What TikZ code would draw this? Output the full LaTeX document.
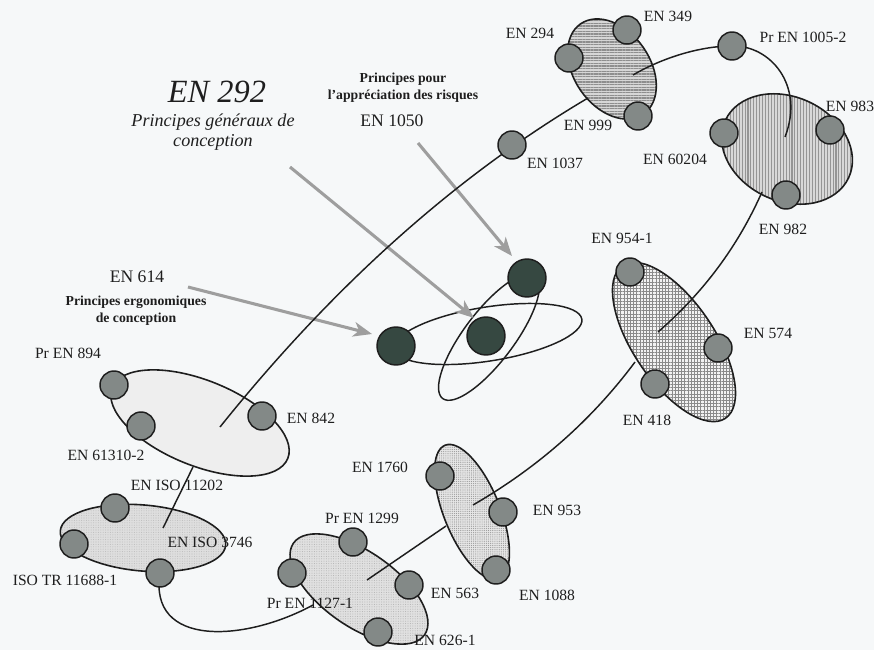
\documentclass[tikz,border=0pt]{standalone}
\usepackage{fontspec}
\setmainfont{Liberation Serif}
\usetikzlibrary{shapes.geometric,patterns.meta,arrows.meta}
\definecolor{bgcol}{HTML}{F6F8F9}
\definecolor{smgray}{HTML}{838987}
\definecolor{dkgreen}{HTML}{364841}
\definecolor{arrowgray}{HTML}{9E9E9E}
\definecolor{baseA}{HTML}{D6D6D6}
\definecolor{hatchA}{HTML}{8E8E8E}
\definecolor{baseB}{HTML}{D8D8D8}
\definecolor{hatchB}{HTML}{959595}
\definecolor{baseC}{HTML}{F2F2F2}
\definecolor{hatchC}{HTML}{8A8A8A}
\definecolor{baseD}{HTML}{E6E6E6}
\definecolor{dotD}{HTML}{9A9A9A}
\definecolor{baseE}{HTML}{E0E0E0}
\definecolor{dotE}{HTML}{B4B4B4}
\definecolor{baseF}{HTML}{EEEEEE}
\definecolor{baseG}{HTML}{DEDEDE}
\definecolor{dotG}{HTML}{BDBDBD}
\definecolor{ink}{HTML}{1E1E1E}
\begin{document}
\begin{tikzpicture}[x=0.75pt,y=-0.75pt,
  lbl/.style={font=\fontsize{11.7}{13}\selectfont, inner sep=0pt, text=ink},
  biglbl/.style={font=\fontsize{13.2}{15}\selectfont, inner sep=0pt, text=ink},
  boldlbl/.style={font=\fontsize{10.3}{12.6}\selectfont\bfseries, inner sep=0pt, align=center, text=ink},
  itlbl/.style={font=\fontsize{13.6}{15.5}\selectfont\itshape, inner sep=0pt, align=center, text=ink},
  blob/.style={ellipse, draw=ink, line width=1.2pt, inner sep=0pt, outer sep=0pt},
  orbit/.style={ellipse, draw=ink, line width=1.1pt, inner sep=0pt, outer sep=0pt},
  sm/.style={circle, draw=ink, line width=1.1pt, fill=smgray, minimum size=21pt, inner sep=0pt},
  dk/.style={circle, draw=ink, line width=1.1pt, fill=dkgreen, minimum size=28.5pt, inner sep=0pt},
  chain/.style={draw=ink, line width=1.1pt},
  garrow/.style={draw=arrowgray, line width=2.3pt, -{Stealth[length=14pt,width=11pt,inset=4pt]}},
]
\useasboundingbox (0,0) rectangle (874,650);
\fill[bgcol] (0,0) rectangle (874,650);

% ---- blobs ----
\node[blob, rotate=-55, minimum width=82.5pt, minimum height=57pt, preaction={fill=baseA},
  pattern={Lines[angle=0,distance=2pt,line width=0.8pt]}, pattern color=hatchA] (blobA) at (612,69) {};
\node[blob, rotate=-25, minimum width=102pt, minimum height=78pt, preaction={fill=baseB},
  pattern={Lines[angle=90,distance=2.2pt,line width=0.8pt]}, pattern color=hatchB] (blobB) at (787,149) {};
\node[blob, rotate=-56, minimum width=138pt, minimum height=61pt, preaction={fill=baseC},
  pattern={Hatch[angle=0,distance=2.4pt,line width=0.6pt]}, pattern color=hatchC] (blobC) at (674,342) {};
\node[blob, rotate=-68, minimum width=108pt, minimum height=42pt, preaction={fill=baseD},
  pattern={Dots[distance=1.6pt,radius=0.45pt]}, pattern color=dotD] (blobD) at (472,512) {};
\node[blob, rotate=-35, minimum width=120pt, minimum height=56pt, preaction={fill=baseE},
  pattern={Dots[distance=1.8pt,radius=0.4pt]}, pattern color=dotE] (blobE) at (359,589) {};
\node[blob, rotate=-22, minimum width=142pt, minimum height=64pt, fill=baseF] (blobF) at (200,423) {};
\node[blob, rotate=-5, minimum width=124.5pt, minimum height=49.5pt, preaction={fill=baseG},
  pattern={Dots[distance=1.8pt,radius=0.4pt]}, pattern color=dotG] (blobG) at (143,538) {};

% ---- central atom orbits ----
\node[orbit, rotate=9, minimum width=142.5pt, minimum height=40.5pt] (orbA) at (488,334) {};
\node[orbit, rotate=53, minimum width=115.5pt, minimum height=37.5pt] (orbB) at (489,337) {};

% ---- named anchor points of connectors ----
\coordinate (aIn) at (633,75);
\coordinate (bIn) at (785,137);
\coordinate (cIn) at (658,332);
\coordinate (dIn) at (473,505);
\coordinate (eIn) at (367,580);
\coordinate (fIn) at (220,427);
\coordinate (gIn) at (163,528);
\coordinate (aEdge) at (588,98);
\coordinate (bEdge) at (762,192);
\coordinate (cEdge) at (635,362);
\coordinate (dEdge) at (446,526);
\coordinate (eEdge) at (313,605);
\coordinate (fEdge) at (193,467);

\coordinate (s614) at (188,287);
\coordinate (t614) at (372,334);
\coordinate (s292) at (290,167);
\coordinate (t292) at (474,318);
\coordinate (s1050) at (418,143);
\coordinate (t1050) at (512,256);

% ---- gray arrows ----
\draw[garrow] (s614) -- (t614);
\draw[garrow] (s292) -- (t292);
\draw[garrow] (s1050) -- (t1050);

% ---- small circles positions (drawn later) ----
\path (732,46) coordinate (p10052) (160,573) coordinate (p3746);

% ---- chain lines ----
\draw[chain] (aIn) .. controls (662,58) and (700,46) .. (p10052) .. controls (770,45) and (805,85) .. (bIn);
\draw[chain] (fIn) .. controls (333,286) and (456,176) .. (aEdge);
\draw[chain] (fEdge) -- (gIn);
\draw[chain] (p3746) .. controls (148,648) and (245,642) .. (eEdge);
\draw[chain] (eIn) -- (dEdge);
\draw[chain] (dIn) .. controls (537,468) and (591,421) .. (cEdge);
\draw[chain] (cIn) .. controls (704,292) and (738,246) .. (bEdge);

% ---- small circles ----
\node[sm] (c294) at (569,58) {};
\node[sm] (c349) at (627,30) {};
\node[sm] (c999) at (638,116) {};
\node[sm] (c1037) at (512,145) {};
\node[sm] (c10052) at (p10052) {};
\node[sm] (c60204) at (724,133) {};
\node[sm] (c983) at (830,130) {};
\node[sm] (c982) at (786,195) {};
\node[sm] (c9541) at (630,272) {};
\node[sm] (c574) at (718,348) {};
\node[sm] (c418) at (655,384) {};
\node[sm] (c1760) at (440,476) {};
\node[sm] (c953) at (503,512) {};
\node[sm] (c1088) at (496,570) {};
\node[sm] (c1299) at (353,542) {};
\node[sm] (c11271) at (292,573) {};
\node[sm] (c563) at (409,585) {};
\node[sm] (c6261) at (378,632) {};
\node[sm] (c894) at (114,385) {};
\node[sm] (c61310) at (141,426) {};
\node[sm] (c842) at (262,416) {};
\node[sm] (c11202) at (115,508) {};
\node[sm] (c11688) at (74,544) {};
\node[sm] (c3746) at (p3746) {};

% ---- dark atom circles ----
\node[dk] (dTop) at (527,278) {};
\node[dk] (dMid) at (486,336) {};
\node[dk] (dLeft) at (396,346) {};

% ---- labels ----
\node[lbl] (l294) at (530,33) {EN 294};
\node[lbl] (l349) at (668,16) {EN 349};
\node[lbl] (l10052) at (803,37) {Pr EN 1005-2};
\node[lbl] (l983) at (850,106) {EN 983};
\node[lbl] (l999) at (588,125) {EN 999};
\node[lbl] (l1037) at (555,163) {EN 1037};
\node[lbl] (l60204) at (675,159) {EN 60204};
\node[lbl] (l982) at (783,229) {EN 982};
\node[lbl] (l9541) at (622,238) {EN 954-1};
\node[lbl] (l574) at (768,333) {EN 574};
\node[lbl] (l418) at (647,420) {EN 418};
\node[lbl] (l953) at (557,510) {EN 953};
\node[lbl] (l1088) at (547,595) {EN 1088};
\node[lbl] (l1760) at (380,467) {EN 1760};
\node[lbl] (l1299) at (362,518) {Pr EN 1299};
\node[lbl] (l11271) at (310,603) {Pr EN 1127-1};
\node[lbl] (l563) at (455,593) {EN 563};
\node[lbl] (l6261) at (445,640) {EN 626-1};
\node[lbl] (l894) at (68,353) {Pr EN 894};
\node[lbl] (l61310) at (106,455) {EN 61310-2};
\node[lbl] (l842) at (311,418) {EN 842};
\node[lbl] (l11202) at (177,485) {EN ISO 11202};
\node[lbl] (l3746) at (210,542) {EN ISO 3746};
\node[lbl] (l11688) at (65,580) {ISO TR 11688-1};

\node[biglbl] (l614) at (137,277) {EN 614};
\node[boldlbl] (l614t) at (136,311) {Principes ergonomiques\\de conception};
\node[font=\fontsize{24.3}{27}\selectfont\itshape, inner sep=0pt, text=ink] (l292) at (217,92) {EN 292};
\node[itlbl] (l292t) at (213,132) {Principes généraux de\\conception};
\node[boldlbl] (l1050t) at (403,88) {Principes pour\\l’appréciation des risques};
\node[biglbl] (l1050) at (392,121) {EN 1050};
\end{tikzpicture}
\end{document}
